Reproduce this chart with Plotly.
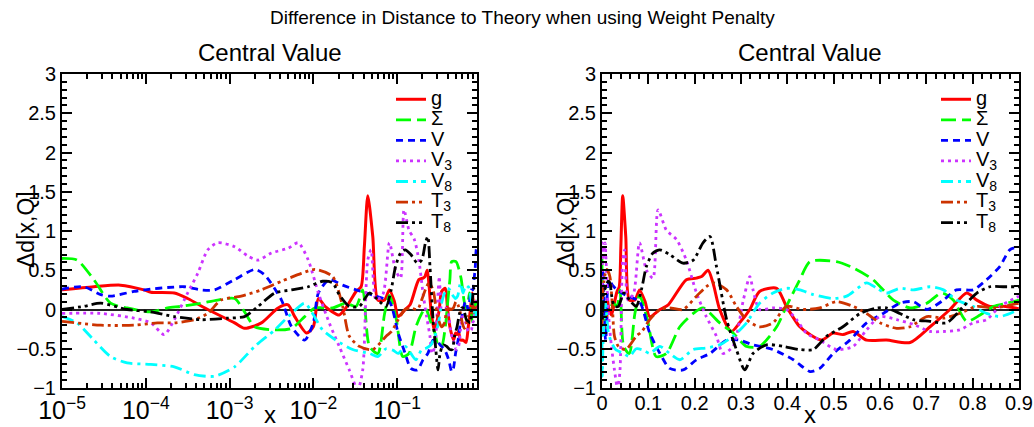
import math
import plotly.graph_objects as go

# ---------------- data ----------------
series_names = ["g", "Σ", "V", "V<sub>3</sub>", "V<sub>8</sub>", "T<sub>3</sub>", "T<sub>8</sub>"]

g_x = [1e-5, 2.4e-5, 5.0e-5, 9.5e-5, 1.15e-4, 2.19e-4, 3.16e-4, 5.5e-4, 1.15e-3, 1.51e-3, 2.4e-3,
       3.8e-3, 5.0e-3, 6.0e-3, 8.3e-3, 1.0e-2, 1.15e-2, 1.38e-2, 2.04e-2, 2.45e-2, 3.24e-2, 3.72e-2,
       4.07e-2, 4.47e-2, 5.13e-2, 5.9e-2, 7.1e-2, 8.1e-2, 9.3e-2, 0.103, 0.125, 0.143, 0.182, 0.204,
       0.215, 0.229, 0.24, 0.254, 0.279, 0.297, 0.319, 0.34, 0.377, 0.398, 0.427, 0.449, 0.474, 0.499,
       0.52, 0.542, 0.571, 0.614, 0.665, 0.708, 0.751, 0.787, 0.809, 0.837, 0.866, 0.9]
g_y = [0.25, 0.29, 0.31, 0.25, 0.22, 0.21, 0.14, 0.0, -0.17, -0.24, -0.17,
       0.02, 0.06, -0.09, -0.30, -0.22, 0.14, 0.04, -0.07, 0.02, 0.23, 0.29,
       0.8, 1.45, 0.93, 0.12, 0.12, 0.25, 0.10, -0.09, 0.0, 0.06, 0.38, 0.40,
       0.42, 0.50, 0.33, 0.0, -0.28, -0.17, 0.0, 0.23, 0.27, 0.04, -0.22, -0.32, -0.39, -0.30,
       -0.32, -0.28, -0.39, -0.39, -0.42, -0.22, 0.0, 0.21, 0.12, 0.04, 0.04, 0.01]

sigma_x = [1e-5, 1.51e-5, 2.4e-5, 3.8e-5, 6.0e-5, 1.15e-4, 1.82e-4, 2.63e-4, 4.57e-4, 7.2e-4, 1.15e-3,
           1.51e-3, 2.0e-3, 3.47e-3, 5.5e-3, 7.9e-3, 1.05e-2, 1.70e-2, 2.45e-2, 3.24e-2, 3.89e-2,
           4.68e-2, 5.9e-2, 7.1e-2, 8.1e-2, 9.8e-2, 0.117, 0.139, 0.168, 0.197, 0.218, 0.254, 0.283,
           0.312, 0.34, 0.377, 0.398, 0.427, 0.449, 0.506, 0.542, 0.585, 0.629, 0.665, 0.701, 0.733,
           0.758, 0.787, 0.816, 0.845, 0.873, 0.9]
sigma_y = [0.65, 0.63, 0.38, 0.08, 0.02, -0.03, 0.02, 0.04, 0.08, 0.12, 0.14,
           -0.03, -0.22, -0.26, -0.24, -0.09, 0.02, 0.02, 0.08, 0.04, 0.25,
           -0.47, -0.56, -0.05, 0.18, -0.13, -0.60, -0.56, -0.22, -0.05, 0.02, -0.17, -0.30,
           -0.47, -0.47, -0.22, 0.04, 0.38, 0.61, 0.61, 0.53, 0.38, 0.12, 0.02, 0.08, 0.21,
           0.12, -0.15, -0.07, 0.04, 0.08, 0.12]

v_x = [1e-5, 1.82e-5, 2.9e-5, 3.8e-5, 7.2e-5, 1.15e-4, 1.82e-4, 2.88e-4, 4.57e-4, 6.6e-4, 1.15e-3,
       2.0e-3, 2.63e-3, 4.17e-3, 5.5e-3, 7.9e-3, 1.0e-2, 1.15e-2, 1.55e-2, 2.24e-2, 3.24e-2, 4.27e-2,
       5.6e-2, 8.1e-2, 0.103, 0.125, 0.146, 0.175, 0.204, 0.233, 0.269, 0.297, 0.326, 0.369, 0.413,
       0.449, 0.47, 0.499, 0.535, 0.571, 0.607, 0.643, 0.672, 0.701, 0.737, 0.765, 0.801, 0.83,
       0.859, 0.88, 0.9]
v_y = [0.26, 0.29, 0.19, 0.17, 0.23, 0.26, 0.28, 0.29, 0.25, 0.25, 0.38,
       0.51, 0.44, 0.12, -0.22, -0.39, -0.17, 0.21, 0.38, 0.31, 0.25, 0.21,
       0.17, 0.10, -0.30, -0.56, -0.75, -0.77, -0.64, -0.56, -0.39, -0.39, -0.45, -0.51, -0.64,
       -0.79, -0.75, -0.56, -0.39, -0.17, -0.05, 0.08, 0.10, 0.0, 0.12, 0.25, 0.25, 0.38,
       0.55, 0.76, 0.80]

v3_x = [1e-5, 2.9e-5, 7.2e-5, 1.15e-4, 1.66e-4, 2.19e-4, 3.16e-4, 4.17e-4, 5.5e-4, 7.2e-4, 1.15e-3,
        1.66e-3, 2.19e-3, 3.16e-3, 5.0e-3, 6.6e-3, 8.7e-3, 1.15e-2, 1.55e-2, 2.04e-2, 2.69e-2,
        3.39e-2, 3.89e-2, 4.47e-2, 4.9e-2, 5.6e-2, 6.8e-2, 8.1e-2, 9.6e-2, 0.11, 0.121, 0.139,
        0.161, 0.182, 0.204, 0.225, 0.247, 0.261, 0.283, 0.305, 0.319, 0.326, 0.34, 0.369, 0.398,
        0.42, 0.441, 0.47, 0.506, 0.542, 0.571, 0.6, 0.636, 0.672, 0.708, 0.737, 0.772, 0.801,
        0.83, 0.859, 0.9]
v3_y = [-0.05, -0.05, -0.11, -0.17, -0.32, -0.13, 0.21, 0.46, 0.76, 0.85, 0.80,
        0.68, 0.63, 0.72, 0.78, 0.85, 0.63, 0.21, -0.17, -0.47, -0.77,
        -1.02, -0.77, 0.63, 0.76, 0.12, 0.20, 0.85, 0.50, 0.40, 1.27, 1.01,
        0.89, 0.63, 0.21, -0.09, -0.34, -0.56, -0.47, 0.12, 0.42, 0.25, 0.0, 0.02, 0.0,
        -0.13, -0.30, -0.39, -0.51, -0.47, -0.26, -0.09, -0.13, -0.19, -0.28, -0.28, -0.26, -0.17,
        -0.13, 0.04, 0.17]

v8_x = [1e-5, 1.51e-5, 2.4e-5, 3.8e-5, 6.0e-5, 1.15e-4, 2.19e-4, 3.8e-4, 6.6e-4, 1.15e-3, 2.0e-3,
        3.47e-3, 5.5e-3, 7.9e-3, 9.8e-3, 1.29e-2, 1.86e-2, 2.95e-2, 4.68e-2, 5.9e-2, 7.4e-2,
        9.0e-2, 0.103, 0.125, 0.146, 0.168, 0.197, 0.225, 0.254, 0.283, 0.312, 0.34, 0.369, 0.398,
        0.427, 0.456, 0.499, 0.528, 0.571, 0.593, 0.614, 0.643, 0.672, 0.708, 0.737, 0.765, 0.801,
        0.83, 0.859, 0.9]
v8_y = [-0.09, -0.17, -0.39, -0.60, -0.68, -0.70, -0.73, -0.83, -0.85, -0.73, -0.47,
        -0.26, -0.05, 0.08, -0.05, -0.26, -0.39, -0.51, -0.56, -0.60, -0.50,
        -0.52, -0.56, -0.47, -0.56, -0.64, -0.51, -0.49, -0.45, -0.34, -0.17, 0.08, 0.21, 0.27,
        0.25, 0.19, 0.14, 0.17, 0.34, 0.27, 0.21, 0.27, 0.25, 0.29, 0.25, 0.12, 0.04,
        -0.05, -0.09, 0.0]

t3_x = [1e-5, 2.9e-5, 7.2e-5, 1.38e-4, 2.19e-4, 3.8e-4, 5.5e-4, 7.9e-4, 1.38e-3, 2.4e-3, 4.17e-3,
        7.2e-3, 1.05e-2, 1.70e-2, 2.24e-2, 2.69e-2, 3.55e-2, 5.13e-2, 7.4e-2, 8.6e-2, 0.103, 0.125,
        0.146, 0.175, 0.204, 0.225, 0.24, 0.269, 0.29, 0.312, 0.34, 0.369, 0.398, 0.434, 0.47,
        0.506, 0.542, 0.571, 0.6, 0.636, 0.665, 0.701, 0.737, 0.772, 0.809, 0.845, 0.9]
t3_y = [-0.15, -0.20, -0.20, -0.17, -0.17, -0.13, -0.05, 0.12, 0.17, 0.25, 0.36,
        0.46, 0.51, 0.42, 0.04, -0.34, -0.47, -0.51, -0.34, -0.28, -0.13, 0.0,
        0.02, 0.0, 0.17, 0.29, 0.34, 0.25, 0.04, -0.13, -0.22, -0.17, 0.04, 0.0, 0.02,
        0.10, 0.04, -0.05, -0.17, -0.24, -0.22, -0.09, -0.11, -0.05, 0.04, 0.02, 0.08]

t8_x = [1e-5, 1.82e-5, 2.9e-5, 6.0e-5, 1.15e-4, 2.19e-4, 4.57e-4, 9.5e-4, 1.51e-3, 2.19e-3, 3.47e-3,
        5.5e-3, 8.7e-3, 1.29e-2, 1.70e-2, 2.04e-2, 2.69e-2, 3.55e-2, 4.68e-2, 6.2e-2, 7.4e-2,
        8.5e-2, 9.6e-2, 0.11, 0.125, 0.146, 0.175, 0.197, 0.218, 0.233, 0.247, 0.269, 0.29, 0.308,
        0.326, 0.355, 0.391, 0.427, 0.456, 0.485, 0.52, 0.557, 0.593, 0.614, 0.643, 0.672, 0.708,
        0.744, 0.78, 0.809, 0.837, 0.866, 0.9]
t8_y = [0.0, 0.04, 0.08, 0.0, -0.03, -0.09, -0.13, -0.11, -0.09, 0.04, 0.21,
        0.25, 0.29, 0.36, 0.34, 0.19, 0.04, 0.04, 0.21, 0.10, 0.04,
        0.25, 0.55, 0.72, 0.76, 0.70, 0.59, 0.63, 0.85, 0.93, 0.55, -0.13, -0.51, -0.77,
        -0.56, -0.45, -0.47, -0.51, -0.51, -0.34, -0.22, -0.05, 0.02, 0.02, -0.05, -0.13, -0.15,
        -0.17, 0.04, 0.21, 0.29, 0.29, 0.29]

y_ticks = [-1, -0.5, 0, 0.5, 1, 1.5, 2, 2.5, 3]
y_tick_text = ["\u22121", "\u22120.5", "0", "0.5", "1", "1.5", "2", "2.5", "3"]
lin_ticks = [0, 0.1, 0.2, 0.3, 0.4, 0.5, 0.6, 0.7, 0.8, 0.9]

# ---------------- styles ----------------
xs = [g_x, sigma_x, v_x, v3_x, v8_x, t3_x, t8_x]
ys = [g_y, sigma_y, v_y, v3_y, v8_y, t3_y, t8_y]
colors = ["#ff0000", "#00ff00", "#0000ff", "#cc33ff", "#00ffff", "#cc3300", "#000000"]
dashes = ["solid", "15px,6px", "7px,5px", "3px,4px", "12px,5px,3px,5px",
          "12px,4px,3px,4px,3px,4px", "12px,4px,3px,4px,3px,4px"]

FONT = "Liberation Sans, Arial, Helvetica, sans-serif"
LEG_TXT = 20

fig = go.Figure()
for panel, (xa, ya, leg) in enumerate([("x", "y", "legend"), ("x2", "y2", "legend2")]):
    for i in range(7):
        fig.add_trace(go.Scatter(
            x=xs[i], y=ys[i], xaxis=xa, yaxis=ya, legend=leg,
            name="<span style='font-size:%dpx'>%s</span>" % (LEG_TXT, series_names[i]),
            mode="lines",
            line=dict(color=colors[i], width=3 if i == 0 else 2.8, dash=dashes[i],
                      shape="spline", smoothing=0.7),
            cliponaxis=True,
        ))

L0, L1 = 62 / 1034, 477 / 1034
R0, R1 = 602 / 1034, 1019 / 1034
B, T = (427 - 388) / 427, (427 - 74) / 427

common_axis = dict(showline=True, linecolor="black", linewidth=2, mirror="allticks",
                   ticks="inside", ticklen=10, tickwidth=1.5, tickcolor="black",
                   showgrid=False, zeroline=False, automargin=False,
                   tickfont=dict(family=FONT, size=20, color="black"))
yaxis_common = dict(common_axis, range=[-1, 3], tickvals=y_ticks, ticktext=y_tick_text,
                    zeroline=True, zerolinecolor="#222222", zerolinewidth=2,
                    minor=dict(ticks="inside", ticklen=5, dtick=0.1, tickcolor="black",
                               showgrid=False))

fig.update_layout(
    template="none",
    width=1034, height=427,
    margin=dict(l=0, r=0, t=0, b=0, autoexpand=False),
    paper_bgcolor="white", plot_bgcolor="white",
    font=dict(family=FONT, color="black"),
    xaxis=dict(common_axis, type="log", domain=[L0, L1], range=[-5, math.log10(0.9)],
               dtick=1, exponentformat="power", anchor="y",
               minor=dict(ticks="inside", ticklen=5, dtick="D1", tickcolor="black",
                          showgrid=False)),
    yaxis=dict(yaxis_common, domain=[B, T], anchor="x"),
    xaxis2=dict(common_axis, domain=[R0, R1], range=[0, 0.9], tickvals=lin_ticks,
                anchor="y2", ticklabelstandoff=-4,
                minor=dict(ticks="inside", ticklen=5, dtick=0.02, tickcolor="black",
                           showgrid=False)),
    yaxis2=dict(yaxis_common, domain=[B, T], anchor="x2"),
    legend=dict(x=391 / 1034, y=(427 - 84) / 427, xanchor="left", yanchor="top",
                bgcolor="rgba(0,0,0,0)", borderwidth=0, tracegroupgap=0,
                font=dict(family=FONT, size=13.5, color="black")),
    legend2=dict(x=936 / 1034, y=(427 - 84) / 427, xanchor="left", yanchor="top",
                 bgcolor="rgba(0,0,0,0)", borderwidth=0, tracegroupgap=0,
                 font=dict(family=FONT, size=13.5, color="black")),
    showlegend=True,
)

ann = []
ann.append(dict(text="Difference in Distance to Theory when using Weight Penalty",
                x=522 / 1034, y=(427 - 17) / 427, xref="paper", yref="paper",
                xanchor="center", yanchor="middle", showarrow=False,
                font=dict(family=FONT, size=19, color="black")))
for cx in [(L0 + L1) / 2, (R0 + R1) / 2]:
    ann.append(dict(text="Central Value", x=cx, y=(427 - 52) / 427, xref="paper", yref="paper",
                    xanchor="center", yanchor="middle", showarrow=False,
                    font=dict(family=FONT, size=24, color="black")))
    ann.append(dict(text="x", x=cx, y=(427 - 414) / 427, xref="paper", yref="paper",
                    xanchor="center", yanchor="middle", showarrow=False,
                    font=dict(family=FONT, size=24, color="black")))
for lx in [26 / 1034, 566 / 1034]:
    ann.append(dict(text="\u0394d[x,Q]", x=lx, y=(427 - 230) / 427, xref="paper", yref="paper",
                    xanchor="center", yanchor="middle", showarrow=False, textangle=-90,
                    font=dict(family=FONT, size=23, color="black")))
fig.update_layout(annotations=ann)

fig.write_html("out.html")
